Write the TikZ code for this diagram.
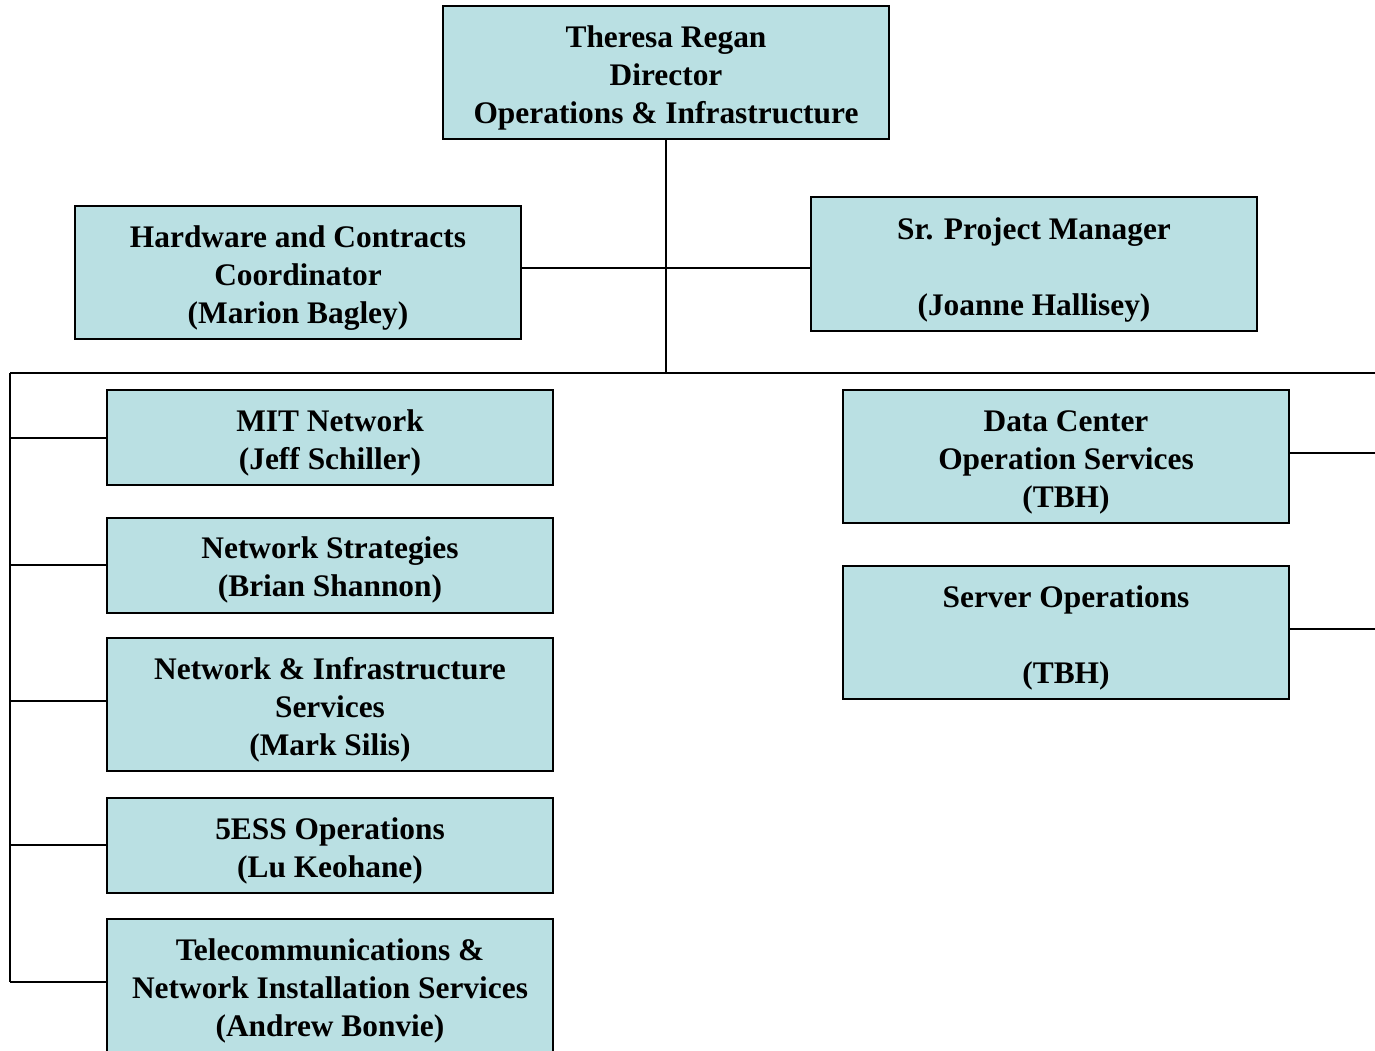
\documentclass[tikz,border=0pt]{standalone}
\usepackage{fontspec}
\setmainfont{Liberation Serif}
\definecolor{boxfill}{HTML}{BAE0E3}
\begin{document}
\begin{tikzpicture}[x=1pt,y=-1pt,
  orgbox/.style={draw=black, line width=2pt, fill=boxfill, minimum width=446pt,
    inner sep=0pt},
  tall/.style={minimum height=133pt},
  short/.style={minimum height=95pt},
  txt/.style={inner sep=0pt, align=center, font=\fontsize{31.4}{38}\selectfont\bfseries},
  conn/.style={line width=2pt}]
\useasboundingbox (0,0) rectangle (1375,1051);
% boxes
\node[orgbox,tall] (top) at (666,72.5) {};
\node[orgbox,tall] (hw) at (298,272) {};
\node[orgbox,tall] (pm) at (1034,264) {};
\node[orgbox,short] (mit) at (330,437.5) {};
\node[orgbox,short] (ns) at (330,565) {};
\node[orgbox,tall] (nis) at (330,704) {};
\node[orgbox,short] (ess) at (330,845) {};
\node[orgbox,tall] (tel) at (330,985) {};
\node[orgbox,tall] (dc) at (1066,456) {};
\node[orgbox,tall] (srv) at (1066,632) {};
% texts
\node[txt] (ttop) at ([yshift=-5.5pt]top.center) {Theresa Regan\\Director\\Operations \& Infrastructure};
\node[txt] (thw) at ([yshift=-6pt]hw.center) {Hardware and Contracts\\Coordinator\\(Marion Bagley)};
\node[txt] (tpm) at ([yshift=-6pt]pm.center) {Sr. Project Manager\\\mbox{}\\(Joanne Hallisey)};
\node[txt] (tmit) at ([yshift=-5pt]mit.center) {MIT Network\\(Jeff Schiller)};
\node[txt] (tns) at ([yshift=-5pt]ns.center) {Network Strategies\\(Brian Shannon)};
\node[txt] (tnis) at ([yshift=-6pt]nis.center) {Network \& Infrastructure\\Services\\(Mark Silis)};
\node[txt] (tess) at ([yshift=-6pt]ess.center) {5ESS Operations\\(Lu Keohane)};
\node[txt] (ttel) at ([yshift=-6pt]tel.center) {Telecommunications \&\\Network Installation Services\\(Andrew Bonvie)};
\node[txt] (tdc) at ([yshift=-6.5pt]dc.center) {Data Center\\Operation Services\\(TBH)};
\node[txt] (tsrv) at ([yshift=-6pt]srv.center) {Server Operations\\\mbox{}\\(TBH)};
% coordinates
\coordinate (hub) at (666,373);
\coordinate (mid) at (666,268);
\coordinate (L) at (10,373);
\coordinate (Lend) at (10,982);
\coordinate (R) at (1376,373);
% connectors
\draw[conn] (top.south) -- (hub);
\draw[conn] (mid -| hw.east) -- (mid -| pm.west);
\draw[conn] (L) -- (R);
\draw[conn] (L) -- (Lend);
\draw[conn] (mit.west) -- (mit.west -| L);
\draw[conn] (ns.west) -- (ns.west -| L);
\draw[conn] ([yshift=3pt]nis.west) -- ([yshift=3pt]nis.west -| L);
\draw[conn] (ess.west) -- (ess.west -| L);
\draw[conn] ([yshift=3pt]tel.west) -- ([yshift=3pt]tel.west -| L);
\draw[conn] ([yshift=3pt]dc.east) -- ([yshift=3pt]dc.east -| R);
\draw[conn] ([yshift=3pt]srv.east) -- ([yshift=3pt]srv.east -| R);
\end{tikzpicture}
\end{document}
